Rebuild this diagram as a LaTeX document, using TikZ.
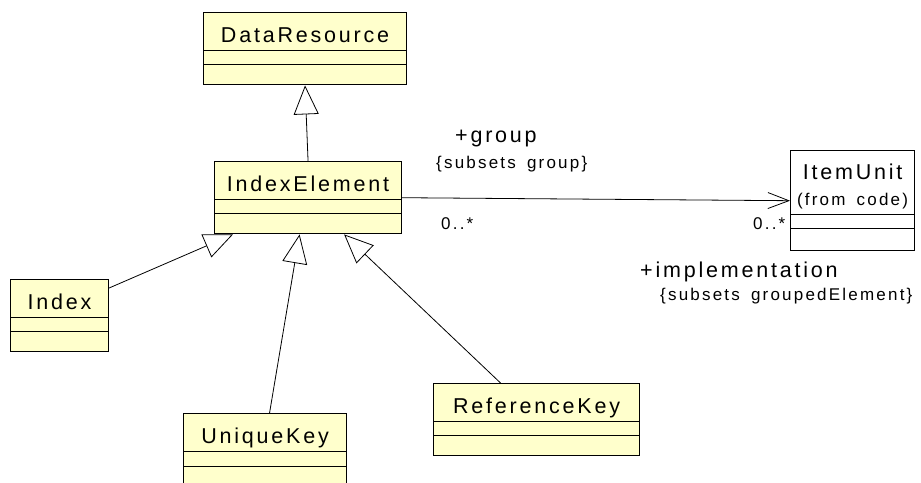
\documentclass[tikz,border=0pt]{standalone}
\usepackage{fontspec}
\usetikzlibrary{shapes.multipart,arrows.meta}
\setmainfont{Liberation Sans}[LetterSpace=13, WordSpace=1.6]
\definecolor{ClassFill}{HTML}{FFFFCC}
\newcommand\namestrut{\rule[-8pt]{0pt}{37pt}}
\newcommand\emptyparts{\nodepart{two}\rule{0pt}{13pt}\nodepart{three}\rule{0pt}{19pt}}

\begin{document}
\begin{tikzpicture}[x=1pt, y=-1pt,
		umlclass/.style={rectangle split, rectangle split parts=3, draw, line width=1.1pt,
			fill=ClassFill, inner xsep=0pt, inner ysep=0pt, anchor=north west,
			font=\fontsize{21.5}{26}\selectfont},
		inherit/.style={-{Triangle[fill=white, length=29pt, width=25pt]}, line width=0.8pt},
		assoc/.style={-{Straight Barb[length=21pt, width=16pt]}, line width=0.8pt},
		role/.style={anchor=base west, inner sep=0pt, font=\fontsize{21.5}{26}\selectfont},
		note/.style={anchor=base west, inner sep=0pt, font=\fontsize{17}{20}\selectfont}]
	\useasboundingbox (0,0) rectangle (921,482);

	% classes
	\node[umlclass, minimum width=203pt] (dataresource) at (203,12)
		{\namestrut DataResource\emptyparts};
	\node[umlclass, minimum width=187pt] (indexelement) at (214,161)
		{\namestrut IndexElement\emptyparts};
	\node[umlclass, minimum width=98pt] (index) at (10,279)
		{\namestrut Index\emptyparts};
	\node[umlclass, minimum width=163pt] (uniquekey) at (183,413)
		{\namestrut UniqueKey\nodepart{two}\rule{0pt}{14pt}\nodepart{three}\rule{0pt}{30pt}};
	\node[umlclass, minimum width=206pt] (referencekey) at (433,383)
		{\namestrut ReferenceKey\emptyparts};
	\node[umlclass, minimum width=124pt, fill=white, align=center] (itemunit) at (790,150)
		{\rule{0pt}{28pt}ItemUnit\\\fontsize{17}{26}\selectfont(from code)\rule[-9pt]{0pt}{9pt}%
		 \nodepart{two}\rule{0pt}{13pt}\nodepart{three}\rule{0pt}{21pt}};

	% generalizations
	\draw[inherit] (indexelement.north) -- (dataresource.south);
	\draw[inherit] ([yshift=-9pt]index.north east) -- ([xshift=19pt]indexelement.south west);
	\draw[inherit] ([xshift=4.5pt]uniquekey.north) -- ([xshift=-8.5pt]indexelement.south);
	\draw[inherit] ([xshift=-36pt]referencekey.north) -- ([xshift=-58pt]indexelement.south east);

	% association to ItemUnit
	\draw[assoc] (indexelement.east) -- (itemunit.west);
	\node[role] (group) at (455,142) {+group};
	\node[note] (groupsubset) at (436,168) {\{subsets group\}};
	\node[note] (multleft) at (441,229) {0..*};
	\node[note] (multright) at (753,229) {0..*};
	\node[role] (implementation) at (640,277) {+implementation};
	\node[note] (implsubset) at (660,300) {\{subsets groupedElement\}};
\end{tikzpicture}
\end{document}
